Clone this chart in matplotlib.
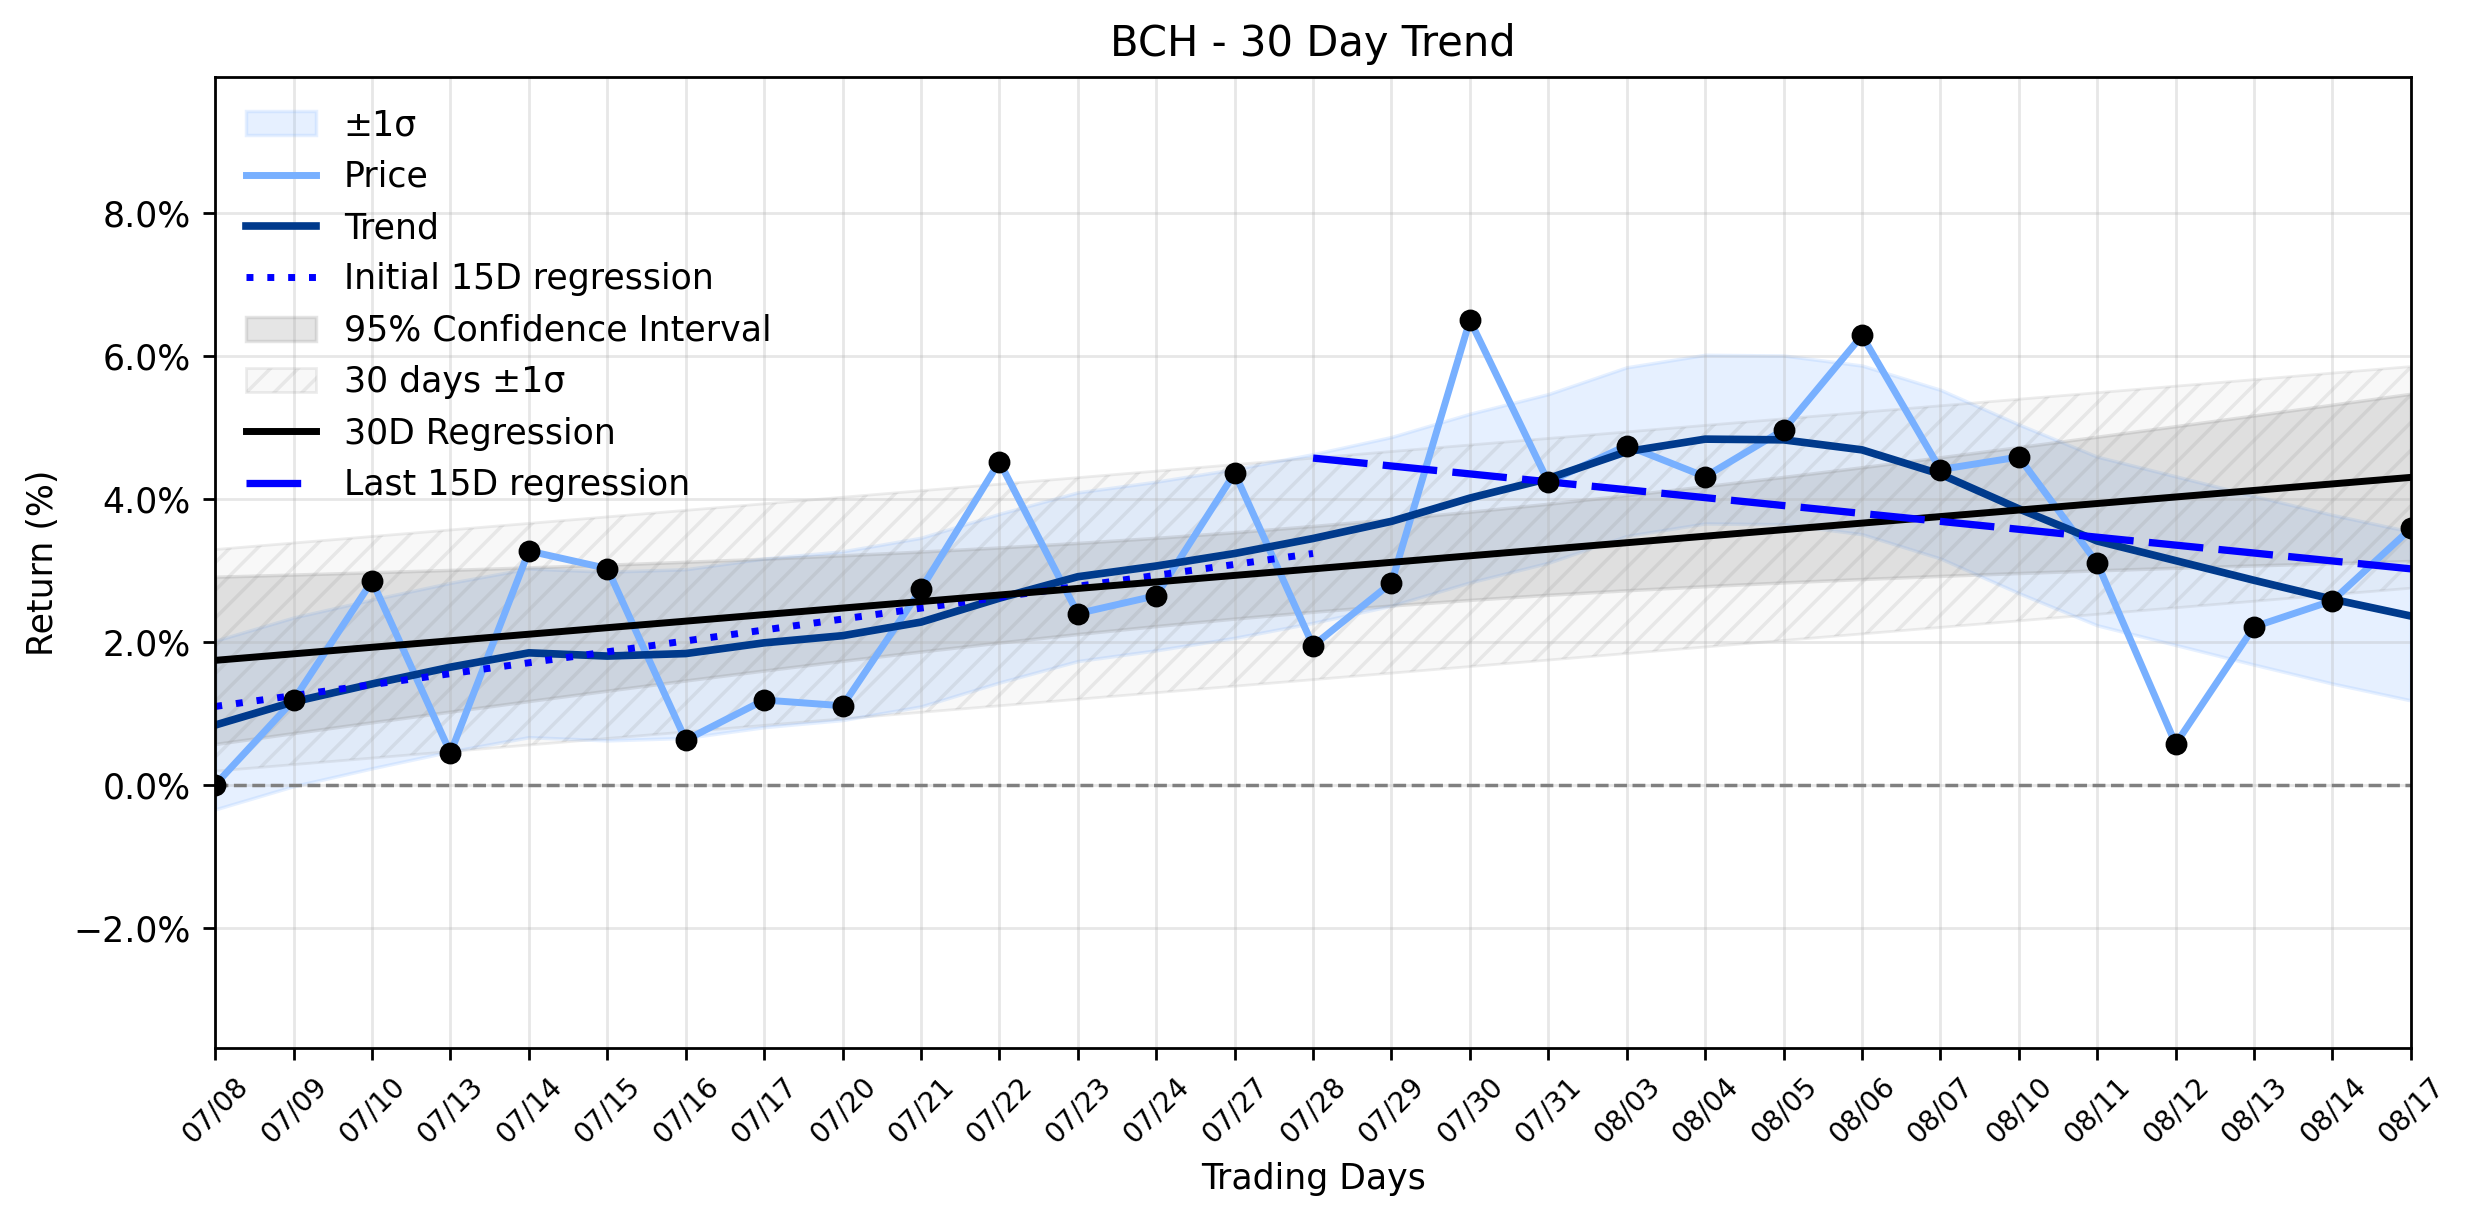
import numpy as np
import matplotlib
matplotlib.use("Agg")
import matplotlib.pyplot as plt
from matplotlib.ticker import PercentFormatter


# Trading days shown on the x axis
DAYS = ["07/08", "07/09", "07/10", "07/13", "07/14", "07/15", "07/16", "07/17",
        "07/20", "07/21", "07/22", "07/23", "07/24", "07/27", "07/28", "07/29",
        "07/30", "07/31", "08/03", "08/04", "08/05", "08/06", "08/07", "08/10",
        "08/11", "08/12", "08/13", "08/14", "08/17"]

# Cumulative return (%) per day
PRICE = [0.0, 1.185, 2.85, 0.445, 3.27, 3.025, 0.625, 1.185, 1.105, 2.735,
         4.52, 2.395, 2.645, 4.36, 1.945, 2.825, 6.50, 4.235, 4.745, 4.31,
         4.965, 6.285, 4.41, 4.585, 3.10, 0.57, 2.21, 2.575, 3.585]

# Smoothed trend (%)
TREND = [0.835, 1.16, 1.41, 1.645, 1.845, 1.80, 1.835, 1.985, 2.085, 2.275,
         2.61, 2.91, 3.06, 3.235, 3.445, 3.685, 4.01, 4.285, 4.66, 4.835,
         4.825, 4.685, 4.345, 3.86, 3.41, 3.135, 2.86, 2.595, 2.36]
TREND_SIGMA = 1.18

# Regression lines: (start, end) values in %
REG_30D = (1.74, 4.30)
REG_FIRST_15D = (1.095, 3.235)
REG_LAST_15D = (4.57, 3.02)

# Half width of the 95% confidence band around the 30D regression
CI_HALF = [1.170, 1.109, 1.049, 0.991, 0.935, 0.881, 0.830, 0.782, 0.738,
           0.699, 0.665, 0.637, 0.617, 0.604, 0.600, 0.604, 0.617, 0.637,
           0.665, 0.699, 0.738, 0.782, 0.830, 0.881, 0.935, 0.991, 1.049,
           1.109, 1.170]
SIGMA_30D = 1.55

PRICE_COLOR = "#78b0ff"
TREND_COLOR = "#003a8c"


def main():
    x = np.arange(len(DAYS))
    price = np.array(PRICE)
    trend = np.array(TREND)
    reg = np.linspace(REG_30D[0], REG_30D[1], len(x))
    ci = np.array(CI_HALF)
    half = len(x) // 2

    fig = plt.figure(figsize=(2474 / 250, 1224 / 250), dpi=250)
    ax = fig.add_subplot(111)
    fig.subplots_adjust(left=0.087, right=0.9745, top=0.937, bottom=0.144)

    ax.fill_between(x, trend - TREND_SIGMA, trend + TREND_SIGMA,
                    color=PRICE_COLOR, alpha=0.18, label="\u00b11\u03c3")
    ax.plot(x, price, color=PRICE_COLOR, linewidth=2, label="Price")
    ax.scatter(x, price, color="black", s=28, zorder=5)
    ax.plot(x, trend, color=TREND_COLOR, linewidth=2.2, label="Trend")
    ax.plot([x[0], x[half]], REG_FIRST_15D, color="blue", linestyle=":",
            dashes=(1, 2), linewidth=2, label="Initial 15D regression")
    ax.fill_between(x, reg - ci, reg + ci, color="gray", alpha=0.2,
                    label="95% Confidence Interval")
    ax.fill_between(x, reg - SIGMA_30D, reg + SIGMA_30D,
                    facecolor=(0.5, 0.5, 0.5, 0.05),
                    edgecolor=(0.5, 0.5, 0.5, 0.14), linewidth=0.8,
                    hatch="///", label="30 days \u00b11\u03c3")
    ax.plot(x, reg, color="black", linewidth=2, label="30D Regression")
    ax.plot([x[half], x[-1]], REG_LAST_15D, color="blue", linestyle="--",
            dashes=(7.5, 2.1), linewidth=2.1, label="Last 15D regression")
    ax.axhline(0, color="gray", linestyle="--", linewidth=1)

    ax.set_xlim(0, len(x) - 1)
    ax.set_ylim(-3.68, 9.9)
    ax.set_xticks(x)
    ax.set_xticklabels(DAYS, rotation=45, fontsize=8)
    ax.set_yticks([-2, 0, 2, 4, 6, 8])
    ax.yaxis.set_major_formatter(PercentFormatter(decimals=1))
    ax.grid(True, alpha=0.3)
    ax.set_title("BCH - 30 Day Trend")
    ax.set_xlabel("Trading Days")
    ax.set_ylabel("Return (%)")
    ax.legend(loc="upper left", frameon=False)

    fig.savefig("out.png", dpi=250)


main()
